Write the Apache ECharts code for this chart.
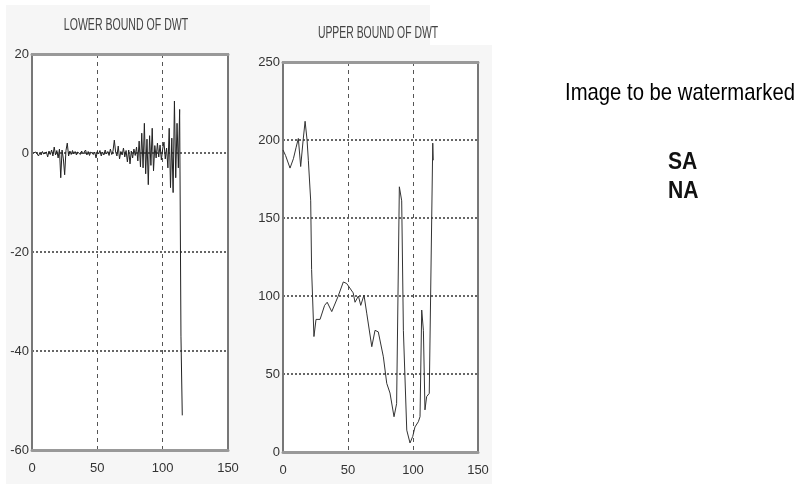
<!DOCTYPE html>
<html>
<head>
<meta charset="utf-8">
<script src="https://cdn.jsdelivr.net/npm/echarts@6/dist/echarts.min.js"></script>
<style>
html,body{margin:0;padding:0;background:#fff;}
#c{width:799px;height:484px;}
</style>
</head>
<body>
<div id="c"></div>
<script>
// ---- data ----
var xTicks = [0, 50, 100, 150];
var lowerTicks = [-60, -40, -20, 0, 20];
var upperTicks = [0, 50, 100, 150, 200, 250];

// lower bound of DWT: one value per sample index 1..115
var lowerY = [
  0, -0.3, 0.2, -0.2, -0.6, 0.1, -0.4, 0.3, -0.2, -0.5,
  0.2, -0.8, 0.4, -0.3, 0.6, -0.6, 1.2, -0.4, 0.5, -1.0,
  0.8, -5.0, 0.6, -1.2, -4.4, 0.5, 2.0, -0.6, 0.4, -0.3,
  0.5, -0.2, 0.3, -0.4, 0.2, 0.5, -0.3, 0.4, -0.2, 0.1,
  0.6, -0.4, 0.3, -0.5, 0.2, 0.4, -0.3, 0.2, -1.0, 0.3,
  -0.2, 0.5, -0.6, 0.2, -0.4, 0.6, -0.2, 0.3, -0.5, 0.8,
  -0.3, 0.4, 2.6, 0.2, -0.6, 1.4, -1.2, 0.3, -0.4, 1.0,
  -0.8, 0.5, -1.8, 0.6, -2.2, 0.4, -1.0, 0.8, -0.5, 1.2,
  -1.6, 2.4, -2.8, 4.0, -3.0, 6.0, -4.2, 2.8, -6.4, 3.5,
  -2.5, 5.0, -3.6, 1.5, -1.0, 2.0, -0.8, 1.6, -1.4, 0.8,
  2.2, -1.2, 1.0, -3.0, 5.0, -7.0, 3.0, -8.0, 10.5, -5.0,
  6.0, -3.0, 8.8, -37.0, -53.0
];

// upper bound of DWT: sample positions and values
var upperX = [0, 2, 5.4, 8, 10, 11.8, 13.6, 15.5, 17, 18.5, 19.5, 21.3, 22, 23.8, 25.4, 28.5, 32, 34, 37.5, 42.3,
  46.4, 49, 54, 55.4, 58, 59.8, 62.3, 64.4, 68.3, 70.8, 73.3, 77.2, 79.8, 82.3, 85.4, 87.4, 89.5, 91.3, 92.6, 95.2,
  97.7, 99.8, 101.5, 104.1, 105.4, 106.7, 108, 109.2, 110.5, 112.5, 115.2, 115.6];
var upperY = [193.6, 190, 182, 188, 195, 201, 183, 200, 212, 200, 187, 161, 117, 74, 85, 85, 94, 96, 90, 99.6,
  109, 108, 102, 96, 100, 94, 100.6, 89, 67.5, 78, 77, 61, 44, 37.8, 22.6, 31, 170, 161, 78, 14,
  5.8, 10, 16, 19.4, 22.6, 91, 78, 27, 35.5, 37.6, 198, 187];

var titles = ['LOWER BOUND OF DWT', 'UPPER BOUND OF DWT'];
var sideText = ['Image to be watermarked', 'SA', 'NA'];

// ---- chart ----
var FONT = "'Liberation Sans',Arial,sans-serif";
var lowerData = lowerY.map(function (v, i) { return [i + 1, v]; });
var upperData = upperX.map(function (x, i) { return [x, upperY[i]]; });

function xAxisCfg(gi) {
  return {
    type: 'value', gridIndex: gi, min: xTicks[0], max: xTicks[xTicks.length - 1], interval: 50,
    axisLine: { show: true, onZero: false, lineStyle: { color: '#999', width: 3 } },
    axisTick: { show: false },
    axisLabel: { color: '#333', fontFamily: FONT, fontSize: 13, margin: 12 },
    splitLine: { show: true, lineStyle: { color: '#555', width: 1, type: [4, 4] } }
  };
}
function topAxisCfg(gi) {
  return {
    type: 'value', gridIndex: gi, position: 'top', min: 0, max: 150, interval: 50,
    axisLine: { show: true, onZero: false, lineStyle: { color: '#999', width: 3 } },
    axisTick: { show: false }, axisLabel: { show: false }, splitLine: { show: false }
  };
}
function yAxisCfg(gi, ticks) {
  return {
    type: 'value', gridIndex: gi, min: ticks[0], max: ticks[ticks.length - 1], interval: ticks[1] - ticks[0],
    axisLine: { show: true, onZero: false, lineStyle: { color: '#777', width: 2 } },
    axisTick: { show: false },
    axisLabel: { color: '#333', fontFamily: FONT, fontSize: 13, margin: 3 },
    splitLine: { show: true, lineStyle: { color: '#666', width: 2, type: [2, 2] } }
  };
}
function rightAxisCfg(gi, ticks) {
  return {
    type: 'value', gridIndex: gi, position: 'right', min: ticks[0], max: ticks[ticks.length - 1], interval: ticks[1] - ticks[0],
    axisLine: { show: true, onZero: false, lineStyle: { color: '#777', width: 2 } },
    axisTick: { show: false }, axisLabel: { show: false }, splitLine: { show: false }
  };
}
function label(txt, x, y, font, color, sx, align) {
  return { type: 'text', x: x, y: y, scaleX: sx, z: 10,
    style: { text: txt, font: font, fill: color, align: align, verticalAlign: 'middle' } };
}

var chart = echarts.init(document.getElementById('c'), null, { renderer: 'canvas' });
chart.setOption({
  backgroundColor: '#fff',
  animation: false,
  graphic: [
    { type: 'rect', z: -10, shape: { x: 6, y: 5, width: 244, height: 479 }, style: { fill: '#f6f6f6' } },
    { type: 'rect', z: -10, shape: { x: 250, y: 5, width: 180, height: 479 }, style: { fill: '#f6f6f6' } },
    { type: 'rect', z: -10, shape: { x: 430, y: 45, width: 62, height: 439 }, style: { fill: '#f6f6f6' } },
    label(titles[0], 126, 26, "16px " + FONT, '#444', 0.66, 'center'),
    label(titles[1], 378, 34, "16px " + FONT, '#444', 0.65, 'center'),
    label(sideText[0], 565, 93, "24px " + FONT, '#000', 0.845, 'left'),
    label(sideText[1], 668, 162, "bold 24px " + FONT, '#111', 0.88, 'left'),
    label(sideText[2], 668, 191, "bold 24px " + FONT, '#111', 0.88, 'left')
  ],
  grid: [
    { left: 32, right: 571, top: 54, bottom: 34, backgroundColor: '#fff', show: true, borderWidth: 0 },
    { left: 283, right: 321, top: 62, bottom: 32, backgroundColor: '#fff', show: true, borderWidth: 0 }
  ],
  xAxis: [xAxisCfg(0), xAxisCfg(1), topAxisCfg(0), topAxisCfg(1)],
  yAxis: [yAxisCfg(0, lowerTicks), yAxisCfg(1, upperTicks), rightAxisCfg(0, lowerTicks), rightAxisCfg(1, upperTicks)],
  series: [
    { type: 'line', xAxisIndex: 0, yAxisIndex: 0, data: lowerData, symbol: 'none',
      lineStyle: { color: '#222', width: 1 } },
    { type: 'line', xAxisIndex: 1, yAxisIndex: 1, data: upperData, symbol: 'none',
      lineStyle: { color: '#333', width: 1 } }
  ]
});
</script>
</body>
</html>
